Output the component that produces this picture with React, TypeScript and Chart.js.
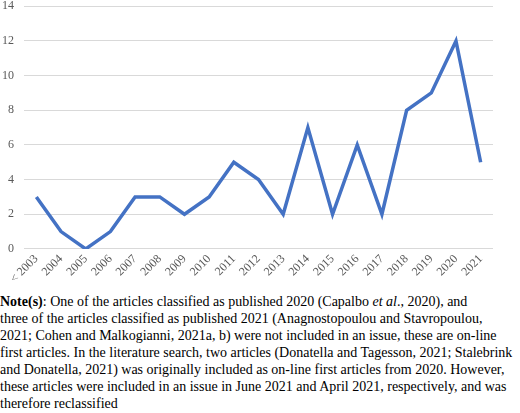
import React, { useEffect, useRef } from "react";
import { Chart, registerables } from "chart.js";

Chart.register(...registerables);

const categories = ["< 2003", "2004", "2005", "2006", "2007", "2008", "2009", "2010", "2011", "2012", "2013", "2014", "2015", "2016", "2017", "2018", "2019", "2020", "2021"];
const articleCounts = [3, 1, 0, 1, 3, 3, 2, 3, 5, 4, 2, 7, 2, 6, 2, 8, 9, 12, 5];
const yTicks = [0, 2, 4, 6, 8, 10, 12, 14];

const noteLines = [
  "three of the articles classified as published 2021 (Anagnostopoulou and Stavropoulou,",
  "2021; Cohen and Malkogianni, 2021a, b) were not included in an issue, these are on-line",
  "first articles. In the literature search, two articles (Donatella and Tagesson, 2021; Stalebrink",
  "and Donatella, 2021) was originally included as on-line first articles from 2020. However,",
  "these articles were included in an issue in June 2021 and April 2021, respectively, and was",
  "therefore reclassified",
];

const FONT = "Liberation Serif";

export default function App() {
  const ref = useRef<HTMLCanvasElement | null>(null);

  useEffect(() => {
    document.body.style.margin = "0";
    const ctx = ref.current;
    if (!ctx) return;
    const chart = new Chart(ctx, {
      type: "line",
      data: {
        labels: categories,
        datasets: [
          {
            data: articleCounts,
            borderColor: "#4472C4",
            borderWidth: 3.5,
            pointRadius: 0,
            tension: 0,
            fill: false,
          },
        ],
      },
      options: {
        animation: false,
        responsive: false,
        maintainAspectRatio: false,
        layout: { padding: { left: 2, right: 27, top: 0, bottom: 0 } },
        plugins: { legend: { display: false }, tooltip: { enabled: false } },
        scales: {
          x: {
            offset: true,
            grid: { display: false, drawTicks: false },
            border: { display: false },
            afterFit: (axis: any) => {
              axis.paddingLeft = 0;
              axis.paddingRight = 0;
            },
            ticks: {
              minRotation: 45,
              maxRotation: 45,
              autoSkip: false,
              padding: 3,
              color: "#595959",
              font: { family: FONT, size: 12 },
            },
          },
          y: {
            min: 0,
            max: 14,
            afterBuildTicks: (axis: any) => {
              axis.ticks = yTicks.map((v) => ({ value: v }));
            },
            afterFit: (axis: any) => {
              axis.width = 22;
            },
            grid: { color: "#d9d9d9", lineWidth: 1, drawTicks: false },
            border: { display: false },
            ticks: {
              padding: 10,
              color: "#595959",
              font: { family: FONT, size: 12 },
            },
          },
        },
      },
    });
    return () => chart.destroy();
  }, []);

  return (
    <div style={{ width: 520, height: 413, position: "relative", background: "#fff", overflow: "hidden" }}>
      <canvas
        ref={ref}
        width={520}
        height={300}
        style={{ display: "block", position: "absolute", left: 0, top: -11 }}
      />
      <div
        style={{
          position: "absolute",
          left: 0,
          top: 293,
          fontFamily: "'Liberation Serif', serif",
          fontSize: 14,
          lineHeight: "17px",
          color: "#000",
          whiteSpace: "nowrap",
        }}
      >
        <div>
          <b>Note(s)</b>: One of the articles classified as published 2020 (Capalbo <i>et al</i>., 2020), and
        </div>
        {noteLines.map((l, i) => (
          <div key={i}>{l}</div>
        ))}
      </div>
    </div>
  );
}
